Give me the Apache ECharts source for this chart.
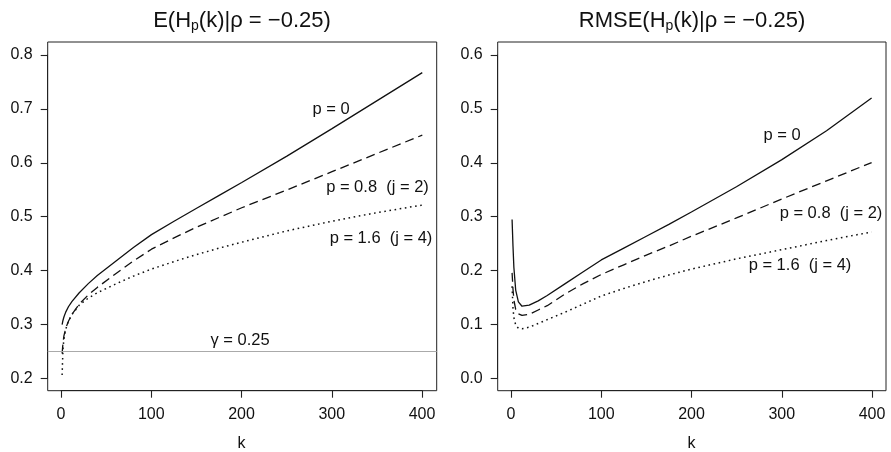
<!DOCTYPE html>
<html>
<head>
<meta charset="utf-8">
<script src="https://cdn.jsdelivr.net/npm/echarts@6/dist/echarts.min.js"></script>
<style>
html,body{margin:0;padding:0;background:#fff;}
#main{width:891px;height:452px;}
</style>
</head>
<body>
<div id="main"></div>
<script>
// ---- data ----
const kValues = [1, 2, 3, 5, 8, 12, 20, 30, 40, 60, 80, 100, 125, 150, 175, 200, 250, 300, 350, 400];

// E(H_p(k) | rho = -0.25)
const meanP0   = [0.299, 0.307, 0.313, 0.322, 0.332, 0.342, 0.358, 0.375, 0.390, 0.416, 0.442, 0.466, 0.491, 0.515, 0.539, 0.563, 0.612, 0.663, 0.715, 0.767];
const meanP08  = [0.245, 0.265, 0.278, 0.292, 0.305, 0.318, 0.337, 0.354, 0.368, 0.393, 0.417, 0.439, 0.460, 0.480, 0.498, 0.516, 0.549, 0.583, 0.617, 0.651];
const meanP16  = [0.205, 0.255, 0.272, 0.290, 0.305, 0.318, 0.335, 0.348, 0.358, 0.374, 0.389, 0.402, 0.416, 0.429, 0.441, 0.452, 0.473, 0.491, 0.507, 0.521];

// RMSE(H_p(k) | rho = -0.25)
const rmseP0   = [0.294, 0.245, 0.205, 0.163, 0.141, 0.133, 0.135, 0.143, 0.153, 0.175, 0.197, 0.219, 0.241, 0.263, 0.285, 0.308, 0.355, 0.405, 0.459, 0.520];
const rmseP08  = [0.195, 0.165, 0.145, 0.127, 0.119, 0.116, 0.118, 0.126, 0.134, 0.156, 0.175, 0.192, 0.210, 0.228, 0.245, 0.263, 0.297, 0.332, 0.366, 0.400];
const rmseP16  = [0.170, 0.130, 0.112, 0.098, 0.092, 0.091, 0.094, 0.101, 0.108, 0.122, 0.137, 0.152, 0.166, 0.179, 0.191, 0.202, 0.221, 0.238, 0.255, 0.271];

const gammaLevel = 0.25;

// tick ranges (ticks every step from min to max)
const xTickMin = 0, xTickMax = 400, xTickStep = 100;
const yMeanTickMin = 0.2, yMeanTickMax = 0.8;
const yRmseTickMin = 0.0, yRmseTickMax = 0.6;
const yTickStep = 0.1;

const seriesLabels = ['p = 0', 'p = 0.8  (j = 2)', 'p = 1.6  (j = 4)'];

// ---- chart ----
const FONT = '"Liberation Sans", Arial, Helvetica, sans-serif';
const INK = '#111';
const chart = echarts.init(document.getElementById('main'), null, {renderer: 'canvas'});

function pairs(arr) { return kValues.map((k, i) => [k, arr[i]]); }

const styles = [
  {type: 'solid', width: 1.3},
  {type: [9, 5], width: 1.3},
  {type: [1.6, 3.6], width: 1.5}
];

function mkSeries(arr, idx, gi, extra) {
  return Object.assign({
    type: 'line',
    xAxisIndex: gi, yAxisIndex: gi,
    data: pairs(arr),
    showSymbol: false,
    smooth: false,
    clip: true,
    lineStyle: {color: INK, width: styles[idx].width, type: styles[idx].type},
    silent: true,
    z: 3
  }, extra || {});
}

// box (plot-region) axes: R-style 4% extension, hidden
function boxX(gi) {
  return {type: 'value', gridIndex: gi, min: -14.96, max: 415.96, show: false,
    axisLine: {onZero: false}, splitLine: {show: false}};
}
function boxY(gi, mn, mx) {
  return {type: 'value', gridIndex: gi, min: mn, max: mx, show: false,
    axisLine: {onZero: false}, splitLine: {show: false}};
}
// tick axes: span exactly the tick range, offset out to the box edges
function tickX(gi) {
  return {
    type: 'value', gridIndex: gi,
    min: xTickMin, max: xTickMax, interval: xTickStep,
    offset: 12.4,
    name: 'k', nameLocation: 'middle', nameGap: 45,
    nameTextStyle: {fontFamily: FONT, fontSize: 16, color: INK},
    axisLine: {show: true, onZero: false, lineStyle: {color: '#222', width: 1}},
    axisTick: {show: true, length: 7, inside: false, lineStyle: {color: '#222', width: 1.1}},
    axisLabel: {show: true, margin: 16, fontFamily: FONT, fontSize: 16, color: INK},
    splitLine: {show: false}
  };
}
function tickY(gi, mn, mx) {
  return {
    type: 'value', gridIndex: gi,
    min: mn, max: mx, interval: yTickStep,
    offset: 13.3,
    axisLine: {show: true, onZero: false, lineStyle: {color: '#222', width: 1}},
    axisTick: {show: true, length: 7, inside: false, lineStyle: {color: '#222', width: 1.1}},
    axisLabel: {show: true, margin: 15, fontFamily: FONT, fontSize: 16, color: INK,
      formatter: v => Number(v).toFixed(1)},
    splitLine: {show: false}
  };
}

function txt(x, y, text, size) {
  return {
    type: 'text', x: x, y: y, silent: true, z: 10,
    style: {text: text, font: (size || 16.5) + 'px ' + FONT, fill: INK, textAlign: 'center', textVerticalAlign: 'middle'}
  };
}

function titleText(x, text) {
  return {
    type: 'text', x: x, y: 21, silent: true, z: 10,
    style: {
      text: text,
      font: '22px ' + FONT, fill: INK,
      textAlign: 'center', textVerticalAlign: 'middle',
      rich: {
        sub: {fontSize: 14, fontFamily: FONT, fill: INK, padding: [10, 0, 0, 0]}
      }
    }
  };
}

const boxBottom = 452 - 390.7;
const gridCommon = {containLabel: false, outerBoundsMode: 'none'};
const option = {
  animation: false,
  backgroundColor: '#fff',
  grid: [
    // plot boxes
    Object.assign({left: 47.7, top: 42, right: 891 - 436.7, bottom: boxBottom, show: true, borderColor: '#222', borderWidth: 1, backgroundColor: 'transparent'}, gridCommon),
    Object.assign({left: 497.7, top: 42, right: 891 - 886, bottom: boxBottom, show: true, borderColor: '#222', borderWidth: 1, backgroundColor: 'transparent'}, gridCommon),
    // tick frames (x 0..400, y tick range)
    Object.assign({left: 61, top: 55, right: 891 - 422, bottom: 452 - 378.3, show: false}, gridCommon),
    Object.assign({left: 511, top: 55, right: 891 - 872, bottom: 452 - 378.3, show: false}, gridCommon)
  ],
  xAxis: [boxX(0), boxX(1), tickX(2), tickX(3)],
  yAxis: [boxY(0, 0.176, 0.824), boxY(1, -0.024, 0.624),
          tickY(2, yMeanTickMin, yMeanTickMax), tickY(3, yRmseTickMin, yRmseTickMax)],
  series: [
    mkSeries(meanP0, 0, 0, {
      markLine: {
        silent: true, symbol: 'none', label: {show: false},
        lineStyle: {color: '#aaaaaa', width: 1.2, type: 'solid'},
        data: [{yAxis: gammaLevel}]
      }
    }),
    mkSeries(meanP08, 1, 0),
    mkSeries(meanP16, 2, 0),
    mkSeries(rmseP0, 0, 1),
    mkSeries(rmseP08, 1, 1),
    mkSeries(rmseP16, 2, 1)
  ],
  graphic: [
    titleText(242, 'E(H{sub|p}(k)|ρ = −0.25)'),
    titleText(692, 'RMSE(H{sub|p}(k)|ρ = −0.25)'),
    txt(331, 109, seriesLabels[0]),
    txt(377.5, 187.5, seriesLabels[1]),
    txt(381, 238.5, seriesLabels[2]),
    txt(240, 340, 'γ = ' + gammaLevel),
    txt(782, 135, seriesLabels[0]),
    txt(831, 213.5, seriesLabels[1]),
    txt(800, 265, seriesLabels[2])
  ]
};
chart.setOption(option);
</script>
</body>
</html>
